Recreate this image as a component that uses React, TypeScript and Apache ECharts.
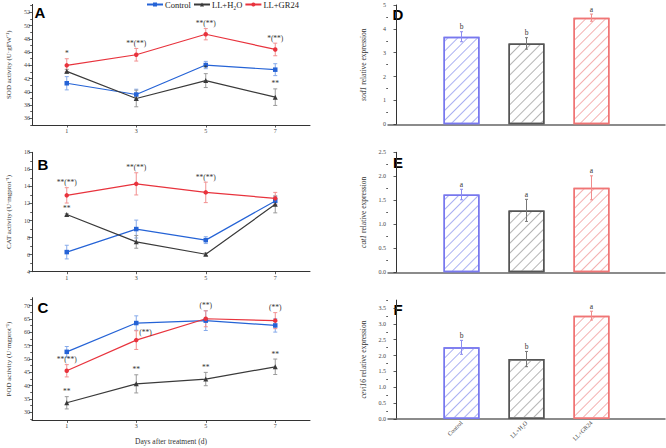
import React, { useEffect, useRef } from "react";
import * as echarts from "echarts";

const days = [1, 3, 5, 7];
const groupNames = ["Control", "LL+H₂O", "LL+GR24"];

// Panel A: SOD activity
const sodControl = [41.3, 39.6, 44.05, 43.35];
const sodControlErr = [1.0, 0.8, 0.55, 0.9];
const sodH2O = [43.1, 39.0, 41.7, 39.2];
const sodH2OErr = [0.3, 1.25, 1.05, 1.25];
const sodGR24 = [44.0, 45.6, 48.7, 46.4];
const sodGR24Err = [1.0, 0.95, 0.85, 0.95];
const sodSigH2O = ["", "", "*", "**"];
const sodSigGR24 = ["*", "**(**)", "**(**)", "*(**)"];

// Panel B: CAT activity
const catControl = [6.3, 9.0, 7.7, 12.3];
const catControlErr = [0.8, 1.05, 0.4, 0.5];
const catH2O = [10.7, 7.5, 6.05, 11.9];
const catH2OErr = [0.1, 0.75, 0.15, 1.0];
const catGR24 = [12.95, 14.3, 13.3, 12.6];
const catGR24Err = [0.9, 1.3, 1.2, 0.7];
const catSigH2O = ["**", "", "", ""];
const catSigGR24 = ["**(**)", "**(**)", "**(**)", ""];

// Panel C: POD activity
const podControl = [52.7, 63.5, 64.4, 62.6];
const podControlErr = [2.0, 2.7, 3.7, 2.5];
const podH2O = [33.6, 40.7, 42.5, 47.1];
const podH2OErr = [2.3, 3.4, 2.5, 2.9];
const podGR24 = [45.6, 57.1, 65.1, 64.4];
const podGR24Err = [2.3, 3.5, 3.0, 3.0];
const podSigH2O = ["**", "**", "**", "**"];
const podSigGR24 = ["**(**)", "(**)", "(**)", "(**)"];
const podSigGR24Side = ["top", "right", "top", "top"];

// Panels D-F: relative expression
const sod1Expr = [3.67, 3.39, 4.47];
const sod1Err = [0.21, 0.24, 0.15];
const sod1Letters = ["b", "b", "a"];
const cat1Expr = [1.62, 1.29, 1.76];
const cat1Err = [0.11, 0.23, 0.25];
const cat1Letters = ["a", "a", "a"];
const cevi16Expr = [2.26, 1.89, 3.26];
const cevi16Err = [0.22, 0.24, 0.14];
const cevi16Letters = ["b", "b", "a"];

// Tick labels
const sodTicks = [36, 38, 40, 42, 44, 46, 48, 50, 52];
const sodMinor = [35, 37, 39, 41, 43, 45, 47, 49, 51, 53];
const catTicks = [4, 6, 8, 10, 12, 14, 16, 18];
const catMinor = [5, 7, 9, 11, 13, 15, 17];
const podTicks = [30, 35, 40, 45, 50, 55, 60, 65, 70];
const podMinor = [27.5, 32.5, 37.5, 42.5, 47.5, 52.5, 57.5, 62.5, 67.5, 72.5];
const dTicks = [0, 1, 2, 3, 4, 5];
const dMinor = [0.5, 1.5, 2.5, 3.5, 4.5];
const eTicks = [0, 0.5, 1.0, 1.5, 2.0, 2.5];
const eMinor = [0.25, 0.75, 1.25, 1.75, 2.25];
const fTicks = [0, 0.5, 1.0, 1.5, 2.0, 2.5, 3.0, 3.5];
const fMinor = [0.25, 0.75, 1.25, 1.75, 2.25, 2.75, 3.25, 3.75];

const SERIF = '"Liberation Serif", "Times New Roman", serif';
const SANS = '"Liberation Sans", Arial, sans-serif';
const lineColors = ["#2563d6", "#3a3a3a", "#e8333d"];
const errColors = ["#86aaea", "#9a9a9a", "#f29090"];
const symbols = ["rect", "triangle", "circle"];
const barBorder = ["#7878ee", "#555555", "#f07575"];
const barErr = ["#8c8cf0", "#777777", "#f08c8c"];
const hatchColors = ["#aab0f2", "#b4b4b4", "#f4b0b0"];

const grids = [
  { left: 32, top: 4.4, width: 278, height: 120.6 },
  { left: 32, top: 152.3, width: 278, height: 119.4 },
  { left: 32, top: 297.7, width: 278, height: 122.7 },
  { left: 388, top: 5, width: 277, height: 119.3 },
  { left: 388, top: 152.3, width: 277, height: 120 },
  { left: 388, top: 300.1, width: 277, height: 118.9 },
];

const yDefs = [
  { min: 35, max: 53.2, ticks: sodTicks, minor: sodMinor, name: "SOD activity (U·gFW⁻¹)", dec: 0 },
  { min: 4, max: 18, ticks: catTicks, minor: catMinor, name: "CAT activity (U·mgprot⁻¹)", dec: 0 },
  { min: 27, max: 73, ticks: podTicks, minor: podMinor, name: "POD activity (U·mgprot⁻¹)", dec: 0 },
  { min: 0, max: 5, ticks: dTicks, minor: dMinor, name: "{i|sod1} relative expression", dec: 0 },
  { min: 0, max: 2.5, ticks: eTicks, minor: eMinor, name: "{i|cat1} relative expression", dec: 1 },
  { min: 0, max: 3.75, ticks: fTicks, minor: fMinor, name: "{i|cevi16} relative expression", dec: 1 },
];

function errRender(color: string, cap: number) {
  return (params: any, api: any) => {
    const x = api.value(0);
    const m = api.value(1);
    const e = api.value(2);
    const p1 = api.coord([x, m + e]);
    const p2 = api.coord([x, m - e]);
    const st = { stroke: color, lineWidth: 1 };
    return {
      type: "group",
      children: [
        { type: "line", shape: { x1: p1[0], y1: p1[1], x2: p2[0], y2: p2[1] }, style: st },
        { type: "line", shape: { x1: p1[0] - cap, y1: p1[1], x2: p1[0] + cap, y2: p1[1] }, style: st },
        { type: "line", shape: { x1: p2[0] - cap, y1: p2[1], x2: p2[0] + cap, y2: p2[1] }, style: st },
      ],
    };
  };
}

function textSeries(xIdx: number, yIdx: number, xs: number[], means: number[], errs: number[], texts: string[], sides?: string[]) {
  const data = xs
    .map((x, i) => [x, means[i] + errs[i], i])
    .filter((d) => texts[d[2] as number] !== "");
  return {
    type: "custom",
    xAxisIndex: xIdx,
    yAxisIndex: yIdx,
    z: 5,
    silent: true,
    encode: { x: 0, y: 1 },
    data,
    renderItem: (params: any, api: any) => {
      const i = api.value(2);
      const p = api.coord([api.value(0), api.value(1)]);
      const side = sides ? sides[i] : "top";
      const t = texts[i];
      if (side === "right") {
        return {
          type: "text",
          x: p[0] + 3,
          y: p[1] + 2,
          style: { text: t, font: `7.5px ${SERIF}`, fill: "#333", align: "left", verticalAlign: "middle", textAlign: "left", textVerticalAlign: "middle" },
        };
      }
      return {
        type: "text",
        x: p[0],
        y: p[1] - 1,
        style: { text: t, font: `7.5px ${SERIF}`, fill: "#333", align: "center", verticalAlign: "bottom", textAlign: "center", textVerticalAlign: "bottom" },
      };
    },
  };
}

function buildOption() {
  const yAxis: any[] = [];
  yDefs.forEach((d, g) => {
    const isRight = g >= 3;
    yAxis.push({
      type: "value",
      gridIndex: g,
      position: "left",
      min: d.min,
      max: d.max,
      name: d.name,
      nameLocation: "middle",
      nameGap: isRight ? 21 : 20,
      nameRotate: 90,
      nameTextStyle: {
        fontFamily: SERIF,
        fontSize: isRight ? 7.5 : 7,
        color: "#333",
        rich: { i: { fontStyle: "italic", fontFamily: SERIF, fontSize: 7.5, color: "#333" } },
      },
      axisLine: { show: true, lineStyle: { color: "#333", width: 1 } },
      axisTick: { show: true, customValues: d.ticks, length: 3, lineStyle: { color: "#333", width: 0.8 } },
      axisLabel: {
        show: true,
        customValues: d.ticks,
        fontFamily: SERIF,
        fontSize: 6,
        color: "#444",
        margin: 2,
        formatter: (v: number) => v.toFixed(d.dec),
      },
      splitLine: { show: false },
    });
    yAxis.push({
      type: "value",
      gridIndex: g,
      position: "left",
      offset: 0,
      min: d.min,
      max: d.max,
      axisLine: { show: false },
      axisTick: { show: true, customValues: d.minor, length: 1.8, lineStyle: { color: "#333", width: 0.8 } },
      axisLabel: { show: false },
      splitLine: { show: false },
    });
  });

  const xAxis: any[] = [];
  for (let g = 0; g < 3; g++) {
    xAxis.push({
      type: "value",
      gridIndex: g,
      min: 0,
      max: 8,
      name: g === 2 ? "Days after treatment (d)" : "",
      nameLocation: "middle",
      nameGap: 17,
      nameTextStyle: { fontFamily: SERIF, fontSize: 7.5, color: "#333" },
      axisLine: { show: true, lineStyle: { color: "#333", width: 1 } },
      axisTick: { show: true, customValues: days, length: 2.5, lineStyle: { color: "#333", width: 0.8 } },
      axisLabel: { show: true, customValues: days, fontFamily: SERIF, fontSize: 6, color: "#444", margin: 3 },
      splitLine: { show: false },
    });
  }
  for (let g = 3; g < 6; g++) {
    xAxis.push({
      type: "value",
      gridIndex: g,
      min: -0.131,
      max: 4.131,
      axisLine: { show: true, lineStyle: { color: "#666", width: 1.5 } },
      axisTick: { show: false },
      axisLabel: {
        show: g === 5,
        customValues: [1, 2, 3],
        formatter: (v: number) => groupNames[Math.round(v) - 1] || "",
        rotate: 45,
        fontFamily: SERIF,
        fontSize: 6,
        color: "#444",
        margin: 3,
      },
      splitLine: { show: false },
    });
  }

  const series: any[] = [];
  const linePanels = [
    { means: [sodControl, sodH2O, sodGR24], errs: [sodControlErr, sodH2OErr, sodGR24Err], sigH2O: sodSigH2O, sigGR24: sodSigGR24, side: undefined },
    { means: [catControl, catH2O, catGR24], errs: [catControlErr, catH2OErr, catGR24Err], sigH2O: catSigH2O, sigGR24: catSigGR24, side: undefined },
    { means: [podControl, podH2O, podGR24], errs: [podControlErr, podH2OErr, podGR24Err], sigH2O: podSigH2O, sigGR24: podSigGR24, side: podSigGR24Side },
  ];
  linePanels.forEach((p, g) => {
    for (let k = 0; k < 3; k++) {
      series.push({
        type: "custom",
        xAxisIndex: g,
        yAxisIndex: 2 * g,
        z: 1,
        silent: true,
        encode: { x: 0, y: 1 },
        data: days.map((d, i) => [d, p.means[k][i], p.errs[k][i]]),
        renderItem: errRender(errColors[k], 2),
      });
    }
    for (let k = 0; k < 3; k++) {
      series.push({
        type: "line",
        name: groupNames[k],
        xAxisIndex: g,
        yAxisIndex: 2 * g,
        z: 3,
        data: days.map((d, i) => [d, p.means[k][i]]),
        symbol: symbols[k],
        symbolSize: k === 1 ? 5 : 4.5,
        showSymbol: true,
        lineStyle: { color: lineColors[k], width: 1.2 },
        itemStyle: { color: lineColors[k] },
      });
    }
    series.push(textSeries(g, 2 * g, days, p.means[1], p.errs[1], p.sigH2O));
    series.push(textSeries(g, 2 * g, days, p.means[2], p.errs[2], p.sigGR24, p.side));
  });

  const barPanels = [
    { expr: sod1Expr, err: sod1Err, letters: sod1Letters },
    { expr: cat1Expr, err: cat1Err, letters: cat1Letters },
    { expr: cevi16Expr, err: cevi16Err, letters: cevi16Letters },
  ];
  const pos = groupNames.map((_, i) => i + 1);
  barPanels.forEach((p, j) => {
    const g = j + 3;
    series.push({
      type: "bar",
      name: "expr" + j,
      xAxisIndex: g,
      yAxisIndex: 2 * g,
      barWidth: 36,
      z: 2,
      data: p.expr.map((v, i) => ({
        value: [pos[i], v],
        itemStyle: {
          color: "rgba(255,255,255,0)",
          borderColor: barBorder[i],
          borderWidth: 1.5,
          decal: {
            symbol: "rect",
            symbolSize: 1,
            color: hatchColors[i],
            backgroundColor: "rgba(255,255,255,0)",
            dashArrayX: [1, 0],
            dashArrayY: [1, 6],
            rotation: -Math.PI / 4,
          },
        },
      })),
    });
    series.push({
      type: "custom",
      xAxisIndex: g,
      yAxisIndex: 2 * g,
      z: 4,
      silent: true,
      encode: { x: 0, y: 1 },
      data: p.expr.map((v, i) => [pos[i], v, p.err[i]]),
      renderItem: (params: any, api: any) => errRender(barErr[params.dataIndex] || "#999", 1.5)(params, api),
    });
    series.push(textSeries(g, 2 * g, pos, p.expr, p.err, p.letters));
  });

  const letters = [
    ["A", 40, 12],
    ["B", 43, 164],
    ["C", 43, 307],
    ["D", 398, 14],
    ["E", 398, 162],
    ["F", 398, 309],
  ];
  const graphic = letters.map(([t, x, y]) => ({
    type: "text",
    x: x as number,
    y: y as number,
    style: { text: t as string, font: `bold 15px ${SANS}`, fill: "#000", align: "center", verticalAlign: "middle", textAlign: "center", textVerticalAlign: "middle" },
  }));

  return {
    animation: false,
    backgroundColor: "#fff",
    grid: grids,
    xAxis,
    yAxis,
    legend: {
      data: groupNames,
      top: 0,
      left: 146,
      padding: 0,
      itemWidth: 16,
      itemHeight: 5,
      itemGap: 2,
      textStyle: { fontFamily: SERIF, fontSize: 8.5, color: "#222", padding: [0, 0, 0, -3] },
    },
    series,
    graphic,
  };
}

export default function App() {
  const ref = useRef<HTMLDivElement>(null);
  useEffect(() => {
    const chart = echarts.init(ref.current!, null, { renderer: "svg" });
    chart.setOption(buildOption() as any);
    return () => chart.dispose();
  }, []);
  return (
    <div
      ref={ref}
      style={{ position: "fixed", left: 0, top: 0, width: 666, height: 448, background: "#fff" }}
    />
  );
}
